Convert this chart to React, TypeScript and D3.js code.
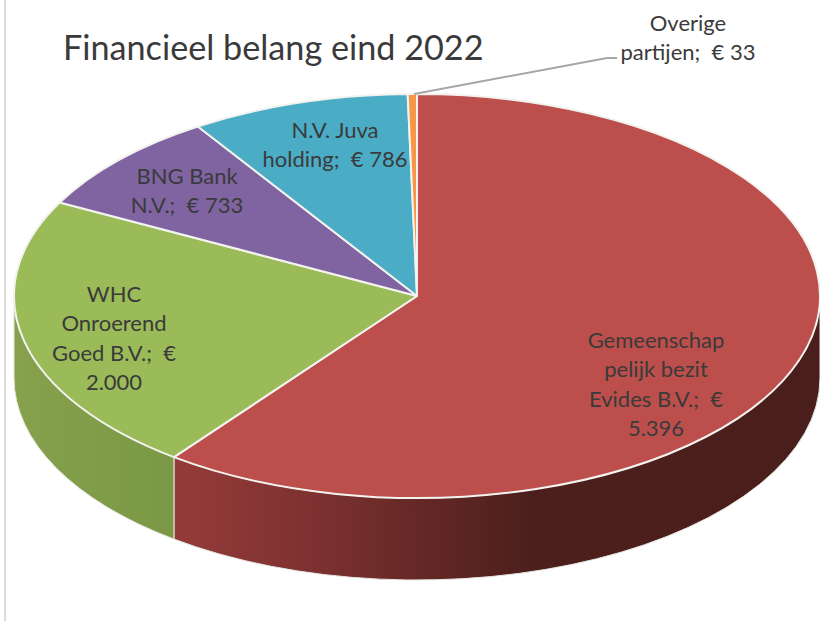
import React from 'react';
import * as d3 from 'd3';

const categories = ['Gemeenschappelijk bezit Evides B.V.', 'WHC Onroerend Goed B.V.', 'BNG Bank N.V.', 'N.V. Juva holding', 'Overige partijen'];
const values = [5396, 2000, 733, 786, 33];
const topColors = ['#bc4f4c', '#9bbb59', '#8064a2', '#4bacc6', '#f79646'];
const labelLines = [
  ['Gemeenschap', 'pelijk bezit', 'Evides B.V.;  €', '5.396'],
  ['WHC', 'Onroerend', 'Goed B.V.;  €', '2.000'],
  ['BNG Bank', 'N.V.;  € 733'],
  ['N.V. Juva', 'holding;  € 786'],
  ['Overige', 'partijen;  € 33'],
];
const labelPos = [[656, 348], [114, 302], [187, 184], [335, 138], [688, 31]];

const cx = 417, cy = 296, rx = 403, ry = 202, depth = 82;
const lineH = 29.3;

const pie = d3.pie<number>().sort(null)(values);
const ptAt = (a: number, dy = 0): [number, number] => [cx + rx * Math.sin(a), cy - ry * Math.cos(a) + dy];

function topPath(a0: number, a1: number) {
  const p = d3.path();
  const [x0, y0] = ptAt(a0);
  const [x1, y1] = ptAt(a1);
  p.moveTo(cx, cy);
  p.lineTo(x0, y0);
  return `${p.toString()}A${rx},${ry} 0 ${a1 - a0 > Math.PI ? 1 : 0} 1 ${x1},${y1}Z`;
}

// outer wall of a slice, only the part on the front half (PI/2 .. 3PI/2)
function wallPath(a0: number, a1: number) {
  const s = Math.max(a0, Math.PI / 2);
  const e = Math.min(a1, (3 * Math.PI) / 2);
  if (e <= s) return null;
  const [x0, y0] = ptAt(s);
  const [x1, y1] = ptAt(e);
  return `M${x0},${y0}A${rx},${ry} 0 0 1 ${x1},${y1}L${x1},${y1 + depth}A${rx},${ry} 0 0 0 ${x0},${y0 + depth}Z`;
}

export default function App() {
  return (
    <svg width={820} height={621} style={{ position: 'absolute', left: 0, top: 0, background: '#fff' }}>
      <defs>
        <linearGradient id="wall0" gradientUnits="userSpaceOnUse" x1={175} x2={820} y1={0} y2={0}>
          <stop offset="0" stopColor="#943b39" />
          <stop offset="0.2" stopColor="#7f3231" />
          <stop offset="0.55" stopColor="#4c1f1c" />
          <stop offset="1" stopColor="#4a1e1c" />
        </linearGradient>
        <linearGradient id="wall1" gradientUnits="userSpaceOnUse" x1={14} x2={175} y1={0} y2={0}>
          <stop offset="0" stopColor="#87a14d" />
          <stop offset="1" stopColor="#7a9845" />
        </linearGradient>
      </defs>
      <line x1={5} x2={5} y1={0} y2={621} stroke="#dcdcdc" strokeWidth={2} />
      {pie.map((d, i) => {
        const w = wallPath(d.startAngle, d.endAngle);
        return w ? <path key={i} d={w} fill={`url(#wall${i})`} stroke="#e4e7e0" strokeWidth={1} /> : null;
      })}
      {pie.map((d, i) => (
        <path key={categories[i]} d={topPath(d.startAngle, d.endAngle)} fill={topColors[i]} stroke="#f2f2ee" strokeWidth={2} strokeLinejoin="round" />
      ))}
      <polyline points="414,94 607,58 617,58" fill="none" stroke="#a6a6a6" strokeWidth={2} />
      <text x={63} y={60} fontFamily="Lato, 'Open Sans', sans-serif" fontSize={34.2} fill="#3a3a3a">Financieel belang eind 2022</text>
      {labelLines.map((lines, i) => (
        <text key={i} fontFamily="Lato, 'Open Sans', sans-serif" fontSize={22} fill="#3a3a3a" textAnchor="middle">
          {lines.map((l, j) => (
            <tspan key={j} x={labelPos[i][0]} y={labelPos[i][1] + j * lineH} xmlSpace="preserve">{l}</tspan>
          ))}
        </text>
      ))}
    </svg>
  );
}
